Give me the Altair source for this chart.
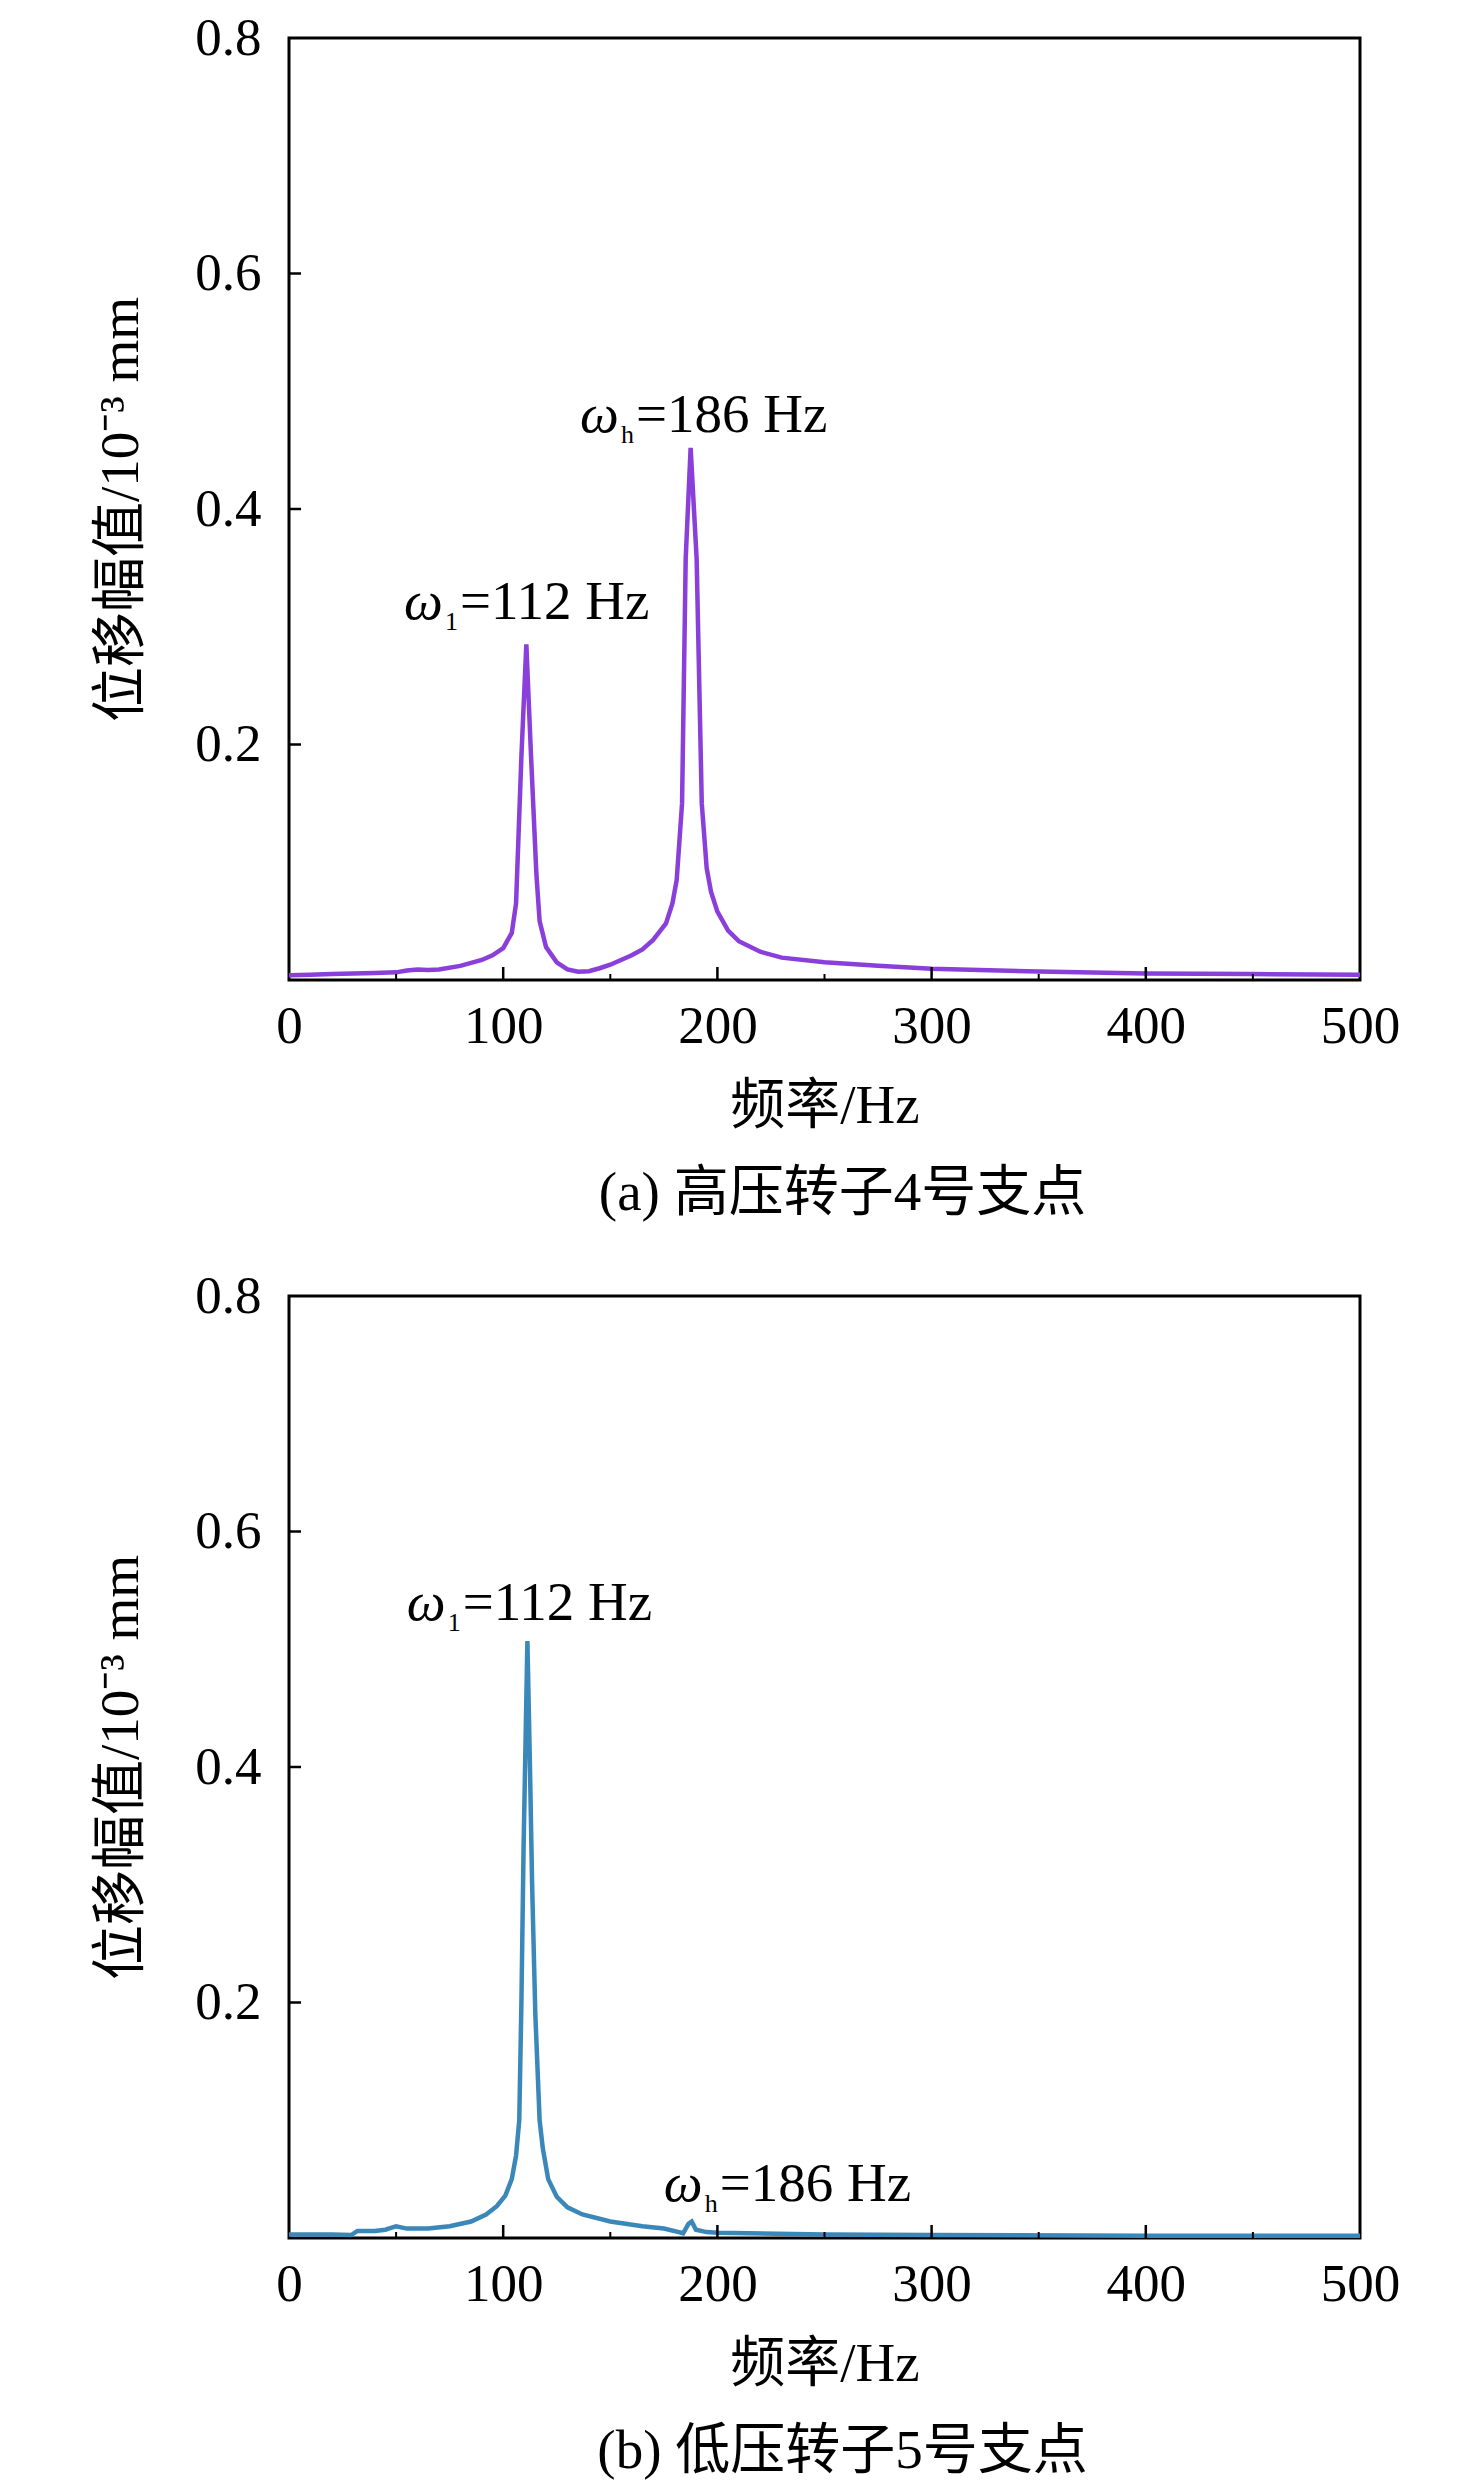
import altair as alt
import pandas as pd

# ---------------- data ----------------
# (a) high-pressure rotor, support 4
freq_a = [0, 10, 20, 30, 40, 50, 55, 60, 65, 70, 80, 90, 95, 100, 104, 106,
          108.5, 110.8, 113, 115.5, 117, 120, 125, 130, 135, 140, 145, 150,
          160, 165, 170, 176, 179, 181, 183.5, 185.2, 187.5, 190.3, 192.7,
          195, 197, 200, 205, 210, 220, 230, 250, 275, 300, 350, 400, 450, 500]
amp_a = [0.004, 0.0045, 0.005, 0.0055, 0.006, 0.0065, 0.008, 0.009, 0.0085,
         0.009, 0.012, 0.017, 0.021, 0.027, 0.040, 0.065,
         0.19, 0.285, 0.19, 0.09, 0.05, 0.028, 0.015, 0.009, 0.007, 0.0075,
         0.010, 0.013, 0.021, 0.026, 0.034, 0.048, 0.065, 0.085, 0.15, 0.358,
         0.452, 0.358, 0.15, 0.095, 0.075, 0.058, 0.042, 0.033, 0.024, 0.019,
         0.015, 0.012, 0.0095, 0.0072, 0.0056, 0.005, 0.0045]

# (b) low-pressure rotor, support 5
freq_b = [0, 20, 29, 32, 40, 45, 50, 55, 65, 75, 85, 92, 97, 101, 104, 106,
          107.5, 108.5, 109.5, 111.3, 112.5, 113.5, 115, 117, 118.5, 121, 125,
          130, 137, 150, 165, 175, 182, 184, 186.5, 188, 190, 195, 200, 250,
          300, 400, 500]
amp_b = [0.003, 0.003, 0.0025, 0.006, 0.006, 0.007, 0.010, 0.008, 0.008,
         0.010, 0.014, 0.020, 0.027, 0.036, 0.050, 0.070, 0.10, 0.20, 0.33,
         0.507, 0.40, 0.30, 0.19, 0.10, 0.076, 0.050, 0.035, 0.026, 0.020,
         0.014, 0.010, 0.008, 0.005, 0.004, 0.012, 0.014, 0.007, 0.005,
         0.0045, 0.003, 0.0025, 0.002, 0.002]

# annotations
ann_sub = ["1", "h"]
ann_rest = ["=112 Hz", "=186 Hz"]
ann_a_f = [53.7, 135.9]
ann_a_y = [0.307, 0.465]
ann_b_f = [55.0, 175.0]
ann_b_y = [0.525, 0.031]

# axes
x_label_values = [0, 100, 200, 300, 400, 500]
y_label_values = [0.2, 0.4, 0.6, 0.8]
x_major_ticks = [100, 200, 300, 400]
x_minor_ticks = [50, 150, 250, 350, 450]
y_major_ticks = [0.2, 0.4, 0.6]

titles = ["(a) 高压转子4号支点", "(b) 低压转子5号支点"]
colors = ["#8A3FDA", "#3A87BA"]

W, H = 1071, 942
FONT = "Liberation Serif, Noto Sans CJK SC, serif"
FS = 53     # tick labels
TFS = 55    # titles and annotations

XAXIS = alt.Axis(values=x_label_values, format="d", title="频率/Hz",
                 labelPadding=20, titlePadding=26, labelFlush=False)
YAXIS = alt.Axis(values=y_label_values, format=".1f", title="位移幅值/10⁻³ mm",
                 labelPadding=28, titlePadding=45, labelFlush=False)


def panel(freq, amp, color, af, ay, title, shift):
    xs = alt.Scale(domain=[0, 500], nice=False, zero=False)
    ys = alt.Scale(domain=[0, 0.8], nice=False)
    X = alt.X("f:Q", scale=xs, axis=XAXIS, title="频率/Hz")
    Y = alt.Y("a:Q", scale=ys, axis=YAXIS, title="位移幅值/10⁻³ mm")
    df = pd.DataFrame({"f": freq, "a": amp})

    line = alt.Chart(df).mark_line(color=color, strokeWidth=4.5, clip=True).encode(
        x=X, y=Y)

    xt = alt.Chart(pd.DataFrame({"f": x_major_ticks})).mark_rule(
        color="black", strokeWidth=2.5).encode(
        x=X, y=alt.value(H), y2=alt.value(H - 13))
    xm = alt.Chart(pd.DataFrame({"f": x_minor_ticks})).mark_rule(
        color="black", strokeWidth=2).encode(
        x=X, y=alt.value(H), y2=alt.value(H - 6))
    yt = alt.Chart(pd.DataFrame({"a": y_major_ticks})).mark_rule(
        color="black", strokeWidth=2.5).encode(
        y=Y, x=alt.value(0), x2=alt.value(12))

    adf = pd.DataFrame({"f": af, "a": ay, "sub": ann_sub, "rest": ann_rest,
                        "w": ["ω", "ω"]})
    base = alt.Chart(adf)
    t_w = base.mark_text(font=FONT, fontSize=TFS, fontStyle="italic", align="left",
                         baseline="alphabetic", color="black").encode(
        x=X, y=Y, text="w:N")
    t_s = base.mark_text(font=FONT, fontSize=26, align="left", baseline="alphabetic",
                         dx=41, dy=11, color="black").encode(
        x=X, y=Y, text="sub:N")
    t_r = base.mark_text(font=FONT, fontSize=TFS, align="left", baseline="alphabetic",
                         dx=56, color="black").encode(
        x=X, y=Y, text="rest:N")

    # invisible spacer that fixes the panel's left bound
    sp = alt.Chart(pd.DataFrame({"f": [0]})).mark_rule(opacity=0).encode(
        x=alt.value(shift), x2=alt.value(shift + 1), y=alt.value(0))

    return alt.layer(line, xt, xm, yt, t_w, t_s, t_r, sp).properties(
        width=W, height=H,
        title=alt.TitleParams(title, orient="bottom", anchor="middle", frame="group",
                              font=FONT, fontSize=TFS, fontWeight="normal",
                              color="black", offset=34, dx=18),
    )


top = panel(freq_a, amp_a, colors[0], ann_a_f, ann_a_y, titles[0], shift=-203)
bottom = panel(freq_b, amp_b, colors[1], ann_b_f, ann_b_y, titles[1], shift=-203)

chart = alt.vconcat(top, bottom, spacing=45).properties(
    padding={"left": 76, "top": 2, "right": 10, "bottom": 5},
    background="white",
).configure_view(
    stroke="black", strokeWidth=3
).configure_axis(
    labelFont=FONT, labelFontSize=FS, labelColor="black",
    titleFont=FONT, titleFontSize=TFS, titleFontWeight="normal", titleColor="black",
    tickSize=0, domain=False, grid=False, labelOverlap=False,
)

chart.save("out.html", embed_options={"renderer": "svg", "actions": False})
